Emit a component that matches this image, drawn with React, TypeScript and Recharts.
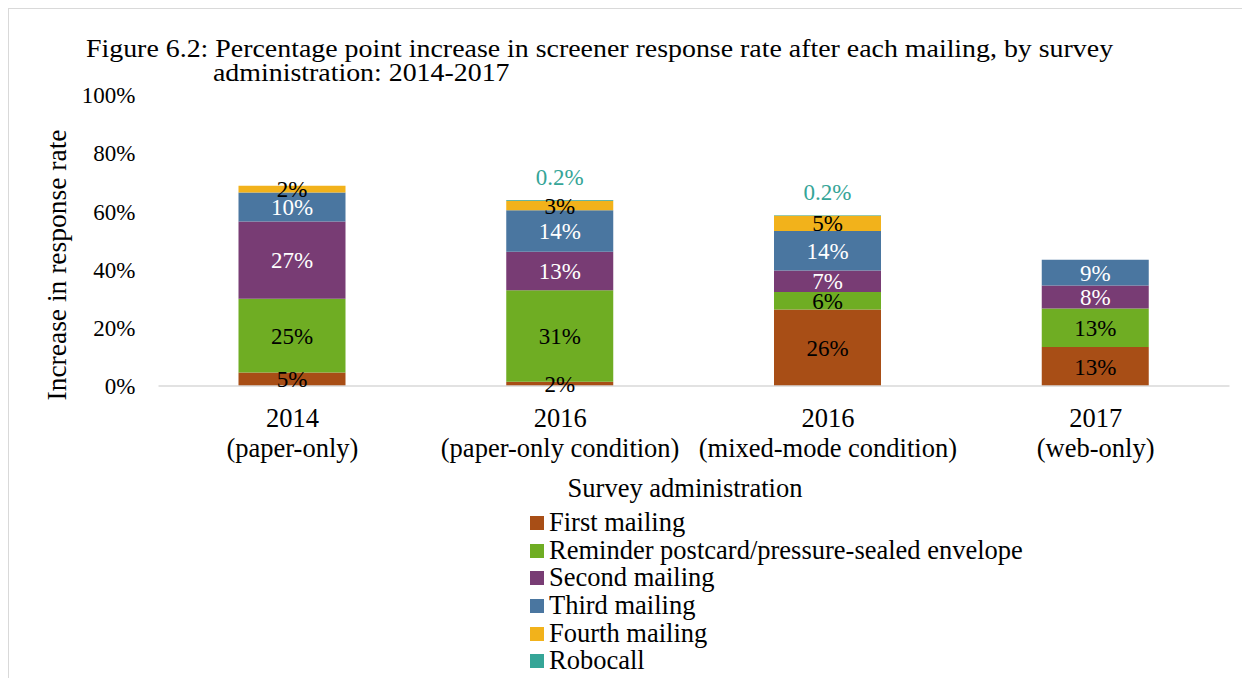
import React from "react";
import { BarChart, Bar, XAxis, YAxis, LabelList } from "recharts";

const years = ["2014", "2016", "2016", "2017"];
const conditions = ["(paper-only)", "(paper-only condition)", "(mixed-mode condition)", "(web-only)"];

const firstMailing = [4.6, 1.5, 26.3, 13.4];
const reminder = [25.4, 31.4, 6.0, 13.2];
const secondMailing = [26.5, 13.2, 7.4, 7.9];
const thirdMailing = [10.0, 14.3, 13.6, 8.9];
const fourthMailing = [2.3, 3.3, 5.2, 0];
const robocall = [0, 0.2, 0.2, 0];

const yTicks = [0, 20, 40, 60, 80, 100];

const FONT = '"Liberation Serif", "Times New Roman", serif';

const series = [
  { key: "first", name: "First mailing", color: "#A84E16", text: "#000", values: firstMailing },
  { key: "reminder", name: "Reminder postcard/pressure-sealed envelope", color: "#6FAD23", text: "#000", values: reminder },
  { key: "second", name: "Second mailing", color: "#783C74", text: "#fff", values: secondMailing },
  { key: "third", name: "Third mailing", color: "#4A76A0", text: "#fff", values: thirdMailing },
  { key: "fourth", name: "Fourth mailing", color: "#F2B21B", text: "#000", values: fourthMailing },
  { key: "robocall", name: "Robocall", color: "#35A597", text: "#35A597", values: robocall },
];

const data = years.map((y, i) => {
  const row: any = { cat: `${y} ${conditions[i]}` };
  series.forEach((s) => (row[s.key] = s.values[i]));
  return row;
});

const CategoryTick = (props: any) => {
  const { x, y, index } = props;
  return (
    <text x={x} y={y} textAnchor="middle" fontSize={26.5} fill="#000" fontFamily={FONT}>
      <tspan x={x} dy={41}>{years[index]}</tspan>
      <tspan x={x} dy={30}>{conditions[index]}</tspan>
    </text>
  );
};

const titleStyle: React.CSSProperties = {
  position: "absolute",
  fontSize: 25,
  lineHeight: "25px",
  whiteSpace: "nowrap",
  transform: "scaleX(1.115)",
  transformOrigin: "left center",
};

export default function App() {
  return (
    <div
      style={{
        position: "relative",
        width: 1242,
        height: 670,
        boxSizing: "border-box",
        borderTop: "1.5px solid #d9d9d9",
        borderLeft: "1.5px solid #d9d9d9",
        fontFamily: FONT,
        color: "#000",
      }}
    >
      <div style={{ ...titleStyle, left: 77, top: 27 }}>
        Figure 6.2: Percentage point increase in screener response rate after each mailing, by survey
      </div>
      <div style={{ ...titleStyle, left: 204, top: 51 }}>administration: 2014-2017</div>

      <BarChart
        width={1241}
        height={669}
        data={data}
        margin={{ top: 86, right: 20.5, left: 0, bottom: 0 }}
        barSize={107}
        style={{ fontFamily: FONT }}
      >
        <XAxis
          dataKey="cat"
          height={292}
          interval={0}
          tickLine={false}
          tickSize={0}
          tickMargin={0}
          axisLine={{ stroke: "#d9d9d9", strokeWidth: 1.5 }}
          tick={<CategoryTick />}
          label={{
            value: "Survey administration",
            content: () => (
              <text x={676} y={488} textAnchor="middle" fontSize={26.5} fill="#000" fontFamily={FONT}>
                Survey administration
              </text>
            ),
          }}
        />
        <YAxis
          width={149.5}
          domain={[0, 100]}
          ticks={yTicks}
          interval={0}
          axisLine={false}
          tickLine={false}
          tickSize={0}
          tickMargin={23}
          tickFormatter={(v) => `${v}%`}
          tick={{ fill: "#000", fontSize: 23, fontFamily: FONT }}
          label={{
            value: "Increase in response rate",
            content: () => (
              <text
                x={47}
                y={256}
                transform="rotate(-90, 47, 256)"
                textAnchor="middle"
                dominantBaseline="central"
                fontSize={27.5}
                fill="#000"
                fontFamily={FONT}
              >
                Increase in response rate
              </text>
            ),
          }}
        />
        {series.map((s) => (
          <Bar key={s.key} dataKey={s.key} name={s.name} stackId="a" fill={s.color} isAnimationActive={false}>
            {s.key === "robocall" ? (
              <LabelList
                dataKey={s.key}
                position="top"
                offset={15}
                fill={s.text}
                fontSize={23}
                fontFamily={FONT}
                formatter={(v: any) => (v ? `${v}%` : "")}
              />
            ) : (
              <LabelList
                dataKey={s.key}
                position="center"
                fill={s.text}
                fontSize={23}
                fontFamily={FONT}
                formatter={(v: any) => (v ? `${Math.round(v)}%` : "")}
              />
            )}
          </Bar>
        ))}
      </BarChart>

      <div style={{ position: "absolute", left: 521, top: 500 }}>
        {series.map((s) => (
          <div key={s.key} style={{ display: "flex", alignItems: "center", height: 27.7 }}>
            <span style={{ display: "inline-block", width: 14, height: 14, background: s.color, marginRight: 5 }} />
            <span style={{ fontSize: 26.5, lineHeight: "27.7px", whiteSpace: "nowrap" }}>{s.name}</span>
          </div>
        ))}
      </div>
    </div>
  );
}
